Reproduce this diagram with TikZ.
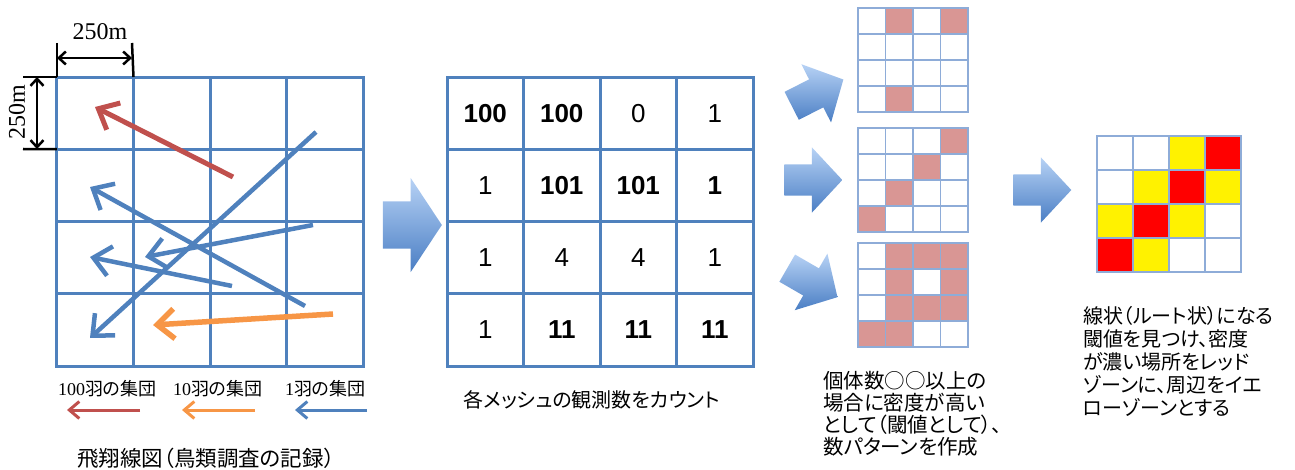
\documentclass[tikz,border=0pt]{standalone}
\usepackage{fontspec}
\setmainfont{Liberation Serif}
\setsansfont{Liberation Sans}
\newfontfamily\jp[RawFeature=+palt]{Noto Sans CJK JP}
\usepackage{xcolor}
\usepackage{tikz}
\usetikzlibrary{matrix,arrows.meta,shapes.arrows}

\definecolor{gridblue}{HTML}{4F81BD}
\definecolor{thinblue}{HTML}{8EACD8}
\definecolor{routered}{HTML}{C0504D}
\definecolor{routeorange}{HTML}{F79646}
\definecolor{cellpink}{HTML}{D99694}
\definecolor{arrowtop}{HTML}{B7D2F5}
\definecolor{arrowbot}{HTML}{4A7EC4}

\tikzset{
  bigcell/.style={draw=gridblue,line width=3pt,minimum width=76.5pt,minimum height=72.25pt,inner sep=0pt,
    anchor=center,font=\sffamily\fontsize{26}{26}\selectfont},
  strong/.style={font=\sffamily\bfseries\fontsize{26}{26}\selectfont},
  smallcell/.style={draw=thinblue,line width=1.5pt,minimum width=27.5pt,minimum height=26pt,inner sep=0pt,anchor=center},
  zonecell/.style={draw=thinblue,line width=1.5pt,minimum width=36pt,minimum height=34pt,inner sep=0pt,anchor=center},
  pk/.style={fill=cellpink},
  rd/.style={fill=red},
  yl/.style={fill=yellow},
  flight/.style={line width=4.5pt,-{Straight Barb[length=17pt,width=30pt]}},
  legendline/.style={line width=3pt,-{Straight Barb[length=10pt,width=17pt]}},
  dimline/.style={line width=2.5pt,{Straight Barb[length=7pt,width=13pt]}-{Straight Barb[length=7pt,width=13pt]}},
  tick/.style={line width=2.5pt},
  flow/.style={single arrow,draw=none,top color=arrowtop,bottom color=arrowbot,inner xsep=0pt,
    inner ysep=15.5pt,single arrow head extend=17pt,minimum height=58pt,single arrow tip angle=94},
  bigflow/.style={flow,inner ysep=23.5pt,single arrow head extend=23.5pt,minimum height=59pt,single arrow tip angle=113},
  jptext/.style={font=\jp\fontsize{20}{23}\selectfont,align=left,inner sep=0pt,anchor=north west},
}

\begin{document}
\begin{tikzpicture}[x=1pt,y=-1pt]
		\useasboundingbox (0,0) rectangle (1295,470);
		%
		% flight record grid
		\matrix (rec) [matrix of nodes,nodes in empty cells,nodes={bigcell},inner sep=0pt,outer sep=0pt,
		  column sep=-3pt,row sep=-3pt,anchor=north west] at (55.5,75.5) {
		  & & & \\
		  & & & \\
		  & & & \\
		  & & & \\
		};
		% count grid
		\matrix (cnt) [matrix of nodes,nodes={bigcell},inner sep=0pt,outer sep=0pt,
		  column sep=-3pt,row sep=-3pt,anchor=north west] at (445.5,75.5) {
		  |[strong]| 100 & |[strong]| 100 & 0 & 1 \\
		  1 & |[strong]| 101 & |[strong]| 101 & |[strong]| 1 \\
		  1 & 4 & 4 & 1 \\
		  1 & |[strong]| 11 & |[strong]| 11 & |[strong]| 11 \\
		};
		% patterns
		\matrix (patA) [matrix of nodes,nodes in empty cells,nodes={smallcell},inner sep=0pt,outer sep=0pt,
		  column sep=-1.5pt,row sep=-1.5pt,anchor=north west] at (857.25,7.25) {
		  & |[pk]| & & |[pk]| \\
		  & & & \\
		  & & & \\
		  & |[pk]| & & \\
		};
		\matrix (patB) [matrix of nodes,nodes in empty cells,nodes={smallcell},inner sep=0pt,outer sep=0pt,
		  column sep=-1.5pt,row sep=-1.5pt,anchor=north west] at (857.25,127.25) {
		  & & & |[pk]| \\
		  & & |[pk]| & \\
		  & |[pk]| & & \\
		  |[pk]| & & & \\
		};
		\matrix (patC) [matrix of nodes,nodes in empty cells,nodes={smallcell},inner sep=0pt,outer sep=0pt,
		  column sep=-1.5pt,row sep=-1.5pt,anchor=north west] at (857.25,242.25) {
		  & |[pk]| & |[pk]| & |[pk]| \\
		  & |[pk]| & & |[pk]| \\
		  & |[pk]| & |[pk]| & |[pk]| \\
		  |[pk]| & |[pk]| & & \\
		};
		% zones
		\matrix (zone) [matrix of nodes,nodes in empty cells,nodes={zonecell},inner sep=0pt,outer sep=0pt,
		  column sep=-1.5pt,row sep=-1.5pt,anchor=north west] at (1096.25,135.25) {
		  & & |[yl]| & |[rd]| \\
		  & |[yl]| & |[rd]| & |[yl]| \\
		  |[yl]| & |[rd]| & |[yl]| & \\
		  |[rd]| & |[yl]| & & \\
		};
		%
		% block arrows
		\node[bigflow] (f1) at (404.5,225) {};
		\node[flow,rotate=27] (f2) at (811,96) {};
		\node[flow] (f3) at (806,180) {};
		\node[flow,rotate=-30] (f4) at (806,279) {};
		\node[flow] (f5) at (1035,190) {};
		%
		% scale marks
		\coordinate (hA) at (57,43);
		\coordinate (hB) at (132,43);
		\coordinate (vA) at (23,77);
		\coordinate (vB) at (23,149);
		\draw[tick] (hA) -- (rec-1-1.north west);
		\draw[tick] (hB) -- (rec-1-1.north east);
		\draw[tick] (vA) -- (rec-1-1.north west);
		\draw[tick] (vB) -- (rec-1-1.south west);
		\draw[dimline] (57,58) -- (132,58);
		\draw[dimline] (37,77) -- (37,149);
		\node (hlab) at (100,32) {\fontsize{24}{24}\selectfont 250m};
		\node[rotate=90] (vlab) at (17,112) {\fontsize{24}{24}\selectfont 250m};
		%
		% flight lines
		\coordinate (r0) at (233,177); \coordinate (r1) at (95,107);
		\coordinate (a0) at (316,132); \coordinate (a1) at (90,338);
		\coordinate (b0) at (305,306); \coordinate (b1) at (90,187);
		\coordinate (c0) at (313,225); \coordinate (c1) at (145,257);
		\coordinate (d0) at (232,286); \coordinate (d1) at (90,257);
		\coordinate (o0) at (333,314); \coordinate (o1) at (153,325);
		\draw[flight,routered,line width=5pt] (r0) -- (r1);
		\draw[flight,gridblue] (a0) -- (a1);
		\draw[flight,gridblue] (b0) -- (b1);
		\draw[flight,gridblue] (c0) -- (c1);
		\draw[flight,gridblue] (d0) -- (d1);
		\draw[flight,routeorange,line width=5.5pt] (o0) -- (o1);
		%
		% legend
		\node[anchor=west,inner sep=0pt] (lg1) at (58,389) {\fontsize{18}{18}\selectfont 100{\jp 羽の集団}};
		\node[anchor=west,inner sep=0pt] (lg2) at (173,389) {\fontsize{18}{18}\selectfont 10{\jp 羽の集団}};
		\node[anchor=west,inner sep=0pt] (lg3) at (285,389) {\fontsize{18}{18}\selectfont 1{\jp 羽の集団}};
		\coordinate (l1a) at (140,410); \coordinate (l1b) at (67,410);
		\coordinate (l2a) at (255,410); \coordinate (l2b) at (182,410);
		\coordinate (l3a) at (367,410); \coordinate (l3b) at (295,410);
		\draw[legendline,routered] (l1a) -- (l1b);
		\draw[legendline,routeorange] (l2a) -- (l2b);
		\draw[legendline,gridblue] (l3a) -- (l3b);
		%
		% captions
		\node (capRec) at (206,458) {\jp\fontsize{21.5}{21.5}\selectfont 飛翔線図（鳥類調査の記録）};
		\node (capCnt) at (592,400) {\jp\fontsize{20}{20}\selectfont 各メッシュの観測数をカウント};
		\node[jptext,font=\jp\fontsize{20.5}{22}\selectfont] (capPat) at (823,371)
		  {個体数○○以上の\\場合に密度が高い\\として（閾値として）、\\数パターンを作成};
		\node[jptext] (capZone) at (1083,306)
		  {線状（ルート状）になる\\閾値を見つけ、密度\\が濃い場所をレッド\\ゾーンに、周辺をイエ\\ローゾーンとする};
\end{tikzpicture}
\end{document}
